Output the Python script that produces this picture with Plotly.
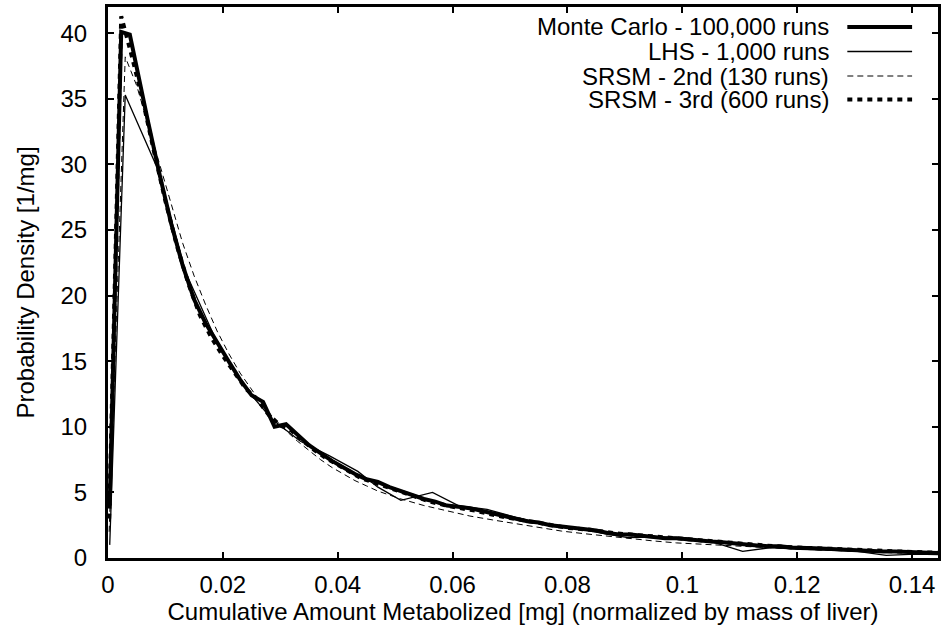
import plotly.graph_objects as go

# ---------------- data ----------------
mc_x = [0.0003, 0.0023, 0.0038, 0.005, 0.007, 0.009, 0.011, 0.013, 0.015, 0.017, 0.019,
        0.021, 0.023, 0.025, 0.027, 0.029, 0.031, 0.033, 0.035, 0.037, 0.039,
        0.041, 0.043, 0.045, 0.047, 0.049, 0.051, 0.053, 0.055, 0.057, 0.059,
        0.061, 0.063, 0.065, 0.067, 0.069, 0.071, 0.073, 0.075, 0.077, 0.079,
        0.081, 0.083, 0.085, 0.087, 0.089, 0.091, 0.093, 0.095, 0.097, 0.099,
        0.101, 0.103, 0.105, 0.107, 0.109, 0.111, 0.113, 0.115, 0.117, 0.119,
        0.121, 0.123, 0.125, 0.127, 0.129, 0.131, 0.133, 0.135, 0.137, 0.139,
        0.141, 0.143, 0.145]
mc_y = [4.0, 40.1, 39.9, 37.3, 33.2, 29.2, 25.5, 22.3, 19.7, 17.9, 16.4,
        15.0, 13.6, 12.4, 11.9, 10.0, 10.2, 9.4, 8.6, 8.0, 7.4,
        6.9, 6.4, 6.0, 5.8, 5.4, 5.1, 4.8, 4.5, 4.3, 4.0,
        3.9, 3.8, 3.6, 3.4, 3.2, 3.0, 2.8, 2.7, 2.5, 2.4,
        2.3, 2.2, 2.1, 1.9, 1.8, 1.8, 1.7, 1.6, 1.5, 1.5,
        1.4, 1.3, 1.25, 1.2, 1.1, 1.0, 0.95, 0.9, 0.9, 0.8,
        0.8, 0.75, 0.7, 0.65, 0.6, 0.6, 0.55, 0.5, 0.5, 0.45,
        0.42, 0.4, 0.38]

lhs_x = [0.0003, 0.003, 0.0085, 0.0135, 0.0185, 0.0235, 0.0285, 0.0335, 0.0385, 0.0435,
         0.047, 0.051, 0.0565, 0.061, 0.066, 0.071, 0.076, 0.081, 0.086, 0.0905,
         0.0955, 0.1005, 0.1055, 0.1105, 0.1155, 0.1205, 0.1255, 0.1305, 0.1355, 0.1405, 0.145]
lhs_y = [1.0, 35.3, 29.8, 21.8, 16.9, 13.2, 10.6, 8.9, 7.8, 6.6,
         5.4, 4.4, 5.0, 4.0, 3.7, 3.1, 2.6, 2.3, 1.9, 1.55,
         1.6, 1.55, 1.2, 0.5, 0.8, 0.65, 0.6, 0.5, 0.2, 0.3, 0.25]

srsm2_x = [0.0002, 0.003, 0.005, 0.007, 0.009, 0.011, 0.013, 0.015, 0.017, 0.019,
           0.021, 0.023, 0.025, 0.027, 0.029, 0.031, 0.033, 0.035, 0.037, 0.039,
           0.041, 0.043, 0.045, 0.047, 0.049, 0.051, 0.055, 0.059, 0.063, 0.067,
           0.071, 0.075, 0.079, 0.083, 0.087, 0.091, 0.095, 0.099, 0.103, 0.107,
           0.111, 0.115, 0.119, 0.123, 0.127, 0.131, 0.135, 0.139, 0.143, 0.145]
srsm2_y = [2.0, 38.2, 36.0, 33.0, 30.0, 27.0, 24.0, 21.5, 19.3, 17.3,
           15.6, 14.1, 12.8, 11.6, 10.6, 9.7, 8.9, 8.2, 7.5, 6.9,
           6.4, 5.9, 5.5, 5.1, 4.8, 4.5, 4.0, 3.6, 3.2, 2.9,
           2.6, 2.3, 2.05, 1.85, 1.65, 1.45, 1.3, 1.15, 1.05, 0.95,
           0.85, 0.78, 0.7, 0.63, 0.57, 0.51, 0.46, 0.42, 0.38, 0.36]

srsm3_x = [0.0002, 0.0023, 0.004, 0.006, 0.008, 0.010, 0.012, 0.014, 0.016, 0.018,
           0.020, 0.022, 0.024, 0.026, 0.028, 0.030, 0.032, 0.034, 0.036, 0.038,
           0.040, 0.044, 0.048, 0.052, 0.056, 0.060, 0.064, 0.068, 0.072, 0.076,
           0.080, 0.084, 0.088, 0.092, 0.096, 0.100, 0.104, 0.108, 0.112, 0.116,
           0.120, 0.124, 0.128, 0.132, 0.136, 0.140, 0.145]
srsm3_y = [3.0, 41.3, 38.5, 35.0, 31.0, 27.2, 23.8, 20.9, 18.5, 16.8,
           15.4, 14.1, 12.9, 12.1, 10.9, 10.1, 9.7, 8.9, 8.2, 7.6,
           7.1, 6.1, 5.5, 4.9, 4.3, 3.9, 3.6, 3.2, 2.9, 2.6,
           2.3, 2.15, 1.9, 1.75, 1.6, 1.45, 1.3, 1.15, 1.0, 0.9,
           0.8, 0.72, 0.65, 0.58, 0.52, 0.46, 0.4]

series_names = ["Monte Carlo - 100,000 runs", "LHS - 1,000 runs",
                "SRSM - 2nd (130 runs)", "SRSM - 3rd (600 runs)"]

x_tickvals = [0, 0.02, 0.04, 0.06, 0.08, 0.1, 0.12, 0.14]
x_ticktext = ["0", "0.02", "0.04", "0.06", "0.08", "0.1", "0.12", "0.14"]
y_tickvals = [0, 5, 10, 15, 20, 25, 30, 35, 40]
y_ticktext = ["0", "5", "10", "15", "20", "25", "30", "35", "40"]

x_title = "Cumulative Amount Metabolized [mg] (normalized by mass of liver)"
y_title = "Probability Density [1/mg]"

# ---------------- styles ----------------
FONT = "Liberation Sans, Arial, sans-serif"
styles = [
    dict(color="black", width=4, dash="solid"),
    dict(color="black", width=1.3, dash="solid"),
    dict(color="black", width=1, dash="6px,4px"),
    dict(color="black", width=4, dash="5px,5px"),
]

W, H = 941, 636
L, T, B, R = 108, 7, 78, 0
plot_w = W - L - R
plot_h = H - T - B

fig = go.Figure()
data = [(mc_x, mc_y), (lhs_x, lhs_y), (srsm2_x, srsm2_y), (srsm3_x, srsm3_y)]
for (xs, ys), name, st in zip(data, series_names, styles):
    fig.add_trace(go.Scatter(x=xs, y=ys, mode="lines", name=name, line=st,
                             showlegend=False, hoverinfo="skip"))

# manual legend (text on the left, sample on the right, as in gnuplot)
legend_rows_px = [27, 51.5, 76, 99.5]
text_right_px = 834
sample_x0_px, sample_x1_px = 850, 915
for name, st, ry in zip(series_names, styles, legend_rows_px):
    yp = (H - B - ry) / plot_h
    fig.add_annotation(x=(text_right_px - L) / plot_w, y=yp, xref="paper", yref="paper",
                       text=name, showarrow=False, xanchor="right", yanchor="middle",
                       font=dict(family=FONT, size=24, color="black"))
    fig.add_shape(type="line", xref="paper", yref="paper",
                  x0=(sample_x0_px - L) / plot_w, x1=(sample_x1_px - L) / plot_w,
                  y0=yp, y1=yp, line=st)

x_max = (W - L) / 5764.0

fig.update_layout(
    width=W, height=H,
    margin=dict(l=L, r=R, t=T, b=B, pad=0),
    paper_bgcolor="white", plot_bgcolor="white",
    font=dict(family=FONT, size=24, color="black"),
    xaxis=dict(range=[0, x_max], tickvals=x_tickvals, ticktext=x_ticktext,
               showgrid=False, zeroline=False, showline=True, linecolor="black",
               linewidth=3, mirror="ticks", ticks="inside", ticklen=6, tickwidth=2,
               tickcolor="black", ticklabelstandoff=3,
               title=dict(text=x_title, standoff=6, font=dict(size=24))),
    yaxis=dict(range=[0, 42], tickvals=y_tickvals, ticktext=y_ticktext,
               showgrid=False, zeroline=False, showline=True, linecolor="black",
               linewidth=3, mirror="ticks", ticks="inside", ticklen=6, tickwidth=2,
               tickcolor="black", ticklabelstandoff=13,
               title=dict(text=y_title, standoff=20, font=dict(size=24))),
)

fig.write_html("out.html")
